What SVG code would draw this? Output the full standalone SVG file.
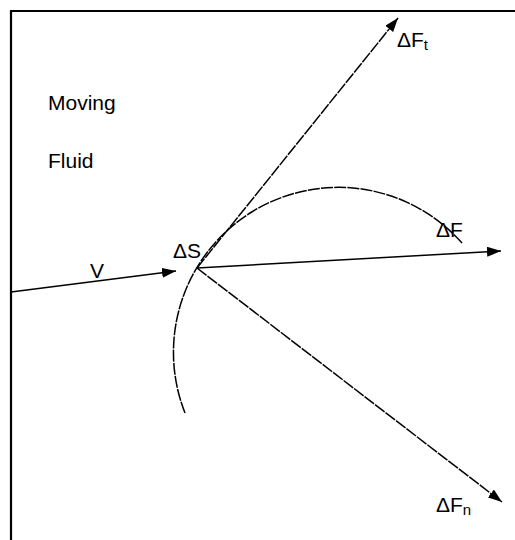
<svg xmlns="http://www.w3.org/2000/svg" width="515" height="540" viewBox="0 0 515 540">
<defs>
<style>
.lbl{font-family:"Liberation Sans",Arial,sans-serif;font-size:21px;fill:#000}
.sub{font-size:15px}
.vec{stroke:#000;fill:none;stroke-width:1.5}
.rough{stroke-dasharray:12 1.2}
</style>
<marker id="ah" viewBox="0 0 14 10" refX="14" refY="5" markerWidth="14" markerHeight="10" markerUnits="userSpaceOnUse" orient="auto">
<path d="M0,0 L14,5 L0,10 Z" fill="#000"/>
</marker>
</defs>
<rect x="0" y="0" width="515" height="540" fill="#fff"/>
<g id="frame">
<path d="M11,545 L11,11 L520,11" fill="none" stroke="#000" stroke-width="2.2"/>
</g>
<g id="connectors">
<line id="v-line" class="vec" x1="11" y1="292" x2="176" y2="271" marker-end="url(#ah)"/>
<line id="f-line" class="vec" x1="197" y1="268" x2="501" y2="251" stroke-width="2" marker-end="url(#ah)"/>
<line id="ft-line" class="vec rough" x1="197" y1="268" x2="398" y2="18" marker-end="url(#ah)"/>
<line id="fn-line" class="vec rough" x1="197" y1="268" x2="502" y2="502" marker-end="url(#ah)"/>
<path id="surface" class="vec rough" d="M185,413 A165,165 0 0 1 462,243" stroke-width="1.3"/>
</g>
<g id="label-moving"><text class="lbl" x="48" y="110">Moving</text></g>
<g id="label-fluid"><text class="lbl" x="48" y="168">Fluid</text></g>
<g id="label-v"><text class="lbl" x="90" y="278">V</text></g>
<g id="label-ds"><text class="lbl" x="173" y="258">ΔS</text></g>
<g id="label-ft"><text class="lbl" x="397" y="47">ΔF<tspan class="sub" dy="3">t</tspan></text></g>
<g id="label-f"><text class="lbl" x="436" y="237">ΔF</text></g>
<g id="label-fn"><text class="lbl" x="436" y="512">ΔF<tspan class="sub" dy="3">n</tspan></text></g>
</svg>
